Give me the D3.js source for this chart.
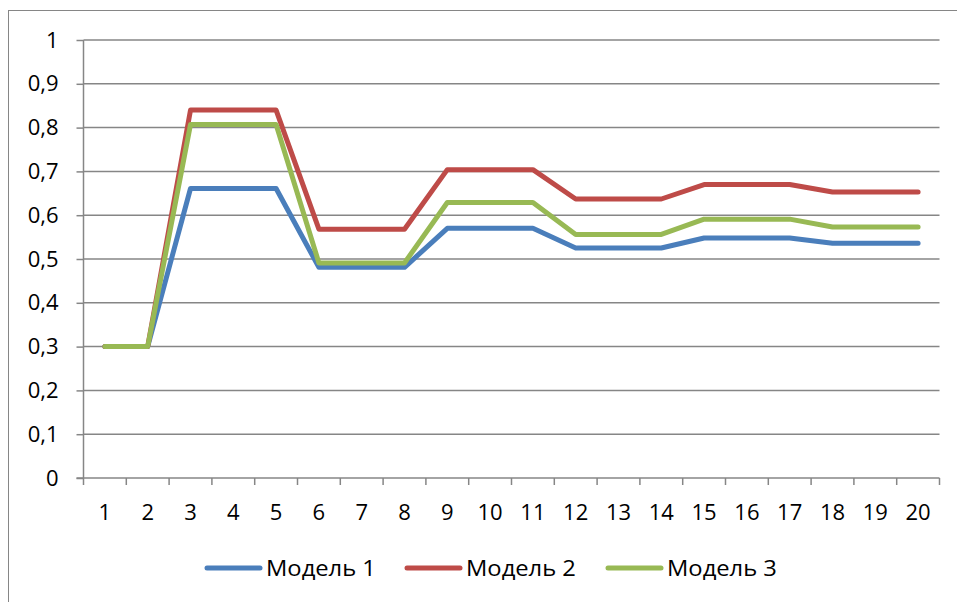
<!DOCTYPE html>
<html>
<head>
<meta charset="utf-8">
<script src="https://cdn.jsdelivr.net/npm/d3@7"></script>
<style>
  html, body { margin: 0; padding: 0; background: #fff; }
  svg { display: block; }
  text { font-family: "Open Sans", "Liberation Sans", sans-serif; fill: #000; }
</style>
</head>
<body>
<svg id="chart" width="957" height="602"></svg>
<script>
// Categories along the x axis
const categories = d3.range(1, 21).map(String);

// Series values per category
const model1 = [0.300, 0.300, 0.661, 0.661, 0.661, 0.481, 0.481, 0.481, 0.570, 0.570,
                0.570, 0.525, 0.525, 0.525, 0.548, 0.548, 0.548, 0.536, 0.536, 0.536];
const model2 = [0.300, 0.300, 0.840, 0.840, 0.840, 0.568, 0.568, 0.568, 0.704, 0.704,
                0.704, 0.637, 0.637, 0.637, 0.670, 0.670, 0.670, 0.653, 0.653, 0.653];
const model3 = [0.300, 0.300, 0.807, 0.807, 0.807, 0.491, 0.491, 0.491, 0.629, 0.629,
                0.629, 0.556, 0.556, 0.556, 0.591, 0.591, 0.591, 0.573, 0.573, 0.573];

const seriesNames = ["Модель 1", "Модель 2", "Модель 3"];
const yTicks = [0, 0.1, 0.2, 0.3, 0.4, 0.5, 0.6, 0.7, 0.8, 0.9, 1];

const series = [
  { name: seriesNames[0], values: model1, color: "#4a7ebb" },
  { name: seriesNames[1], values: model2, color: "#be4b48" },
  { name: seriesNames[2], values: model3, color: "#98b954" }
];

const svg = d3.select("#chart");
const plot = { left: 83.5, right: 939.5, top: 40, bottom: 478 };
const gridColor = "#868686";
const fontSize = "22px";
const fmt = v => String(v).replace(".", ",");

// Outer chart frame
svg.append("rect")
  .attr("x", 8.5).attr("y", 10.5)
  .attr("width", 960).attr("height", 600)
  .attr("fill", "none").attr("stroke", gridColor).attr("stroke-width", 1);

const x = d3.scaleBand().domain(categories).range([plot.left, plot.right]).padding(0);
const y = d3.scaleLinear().domain([0, 1]).range([plot.bottom, plot.top]);

// Horizontal gridlines
svg.append("g")
  .selectAll("line")
  .data(yTicks.slice(1))
  .join("line")
  .attr("x1", plot.left).attr("x2", plot.right)
  .attr("y1", d => y(d)).attr("y2", d => y(d))
  .attr("stroke", gridColor).attr("stroke-width", 1.5);

// Y axis
const yAxis = svg.append("g")
  .attr("transform", `translate(${plot.left},0)`)
  .call(d3.axisLeft(y).tickValues(yTicks).tickFormat(fmt).tickSize(7).tickPadding(18));
yAxis.selectAll("line, path").attr("stroke", gridColor).attr("stroke-width", 1.5);
yAxis.select(".domain").attr("d", `M0,${plot.bottom}V${plot.top}`);
yAxis.selectAll("text")
  .style("font-size", fontSize)
  .style("font-family", "\"Open Sans\", sans-serif")
  .attr("fill", "#000");

// X axis with ticks on category boundaries
const xAxisG = svg.append("g").attr("transform", `translate(0,${plot.bottom})`);
xAxisG.append("line")
  .attr("x1", plot.left - 7).attr("x2", plot.right)
  .attr("stroke", gridColor).attr("stroke-width", 1.5);
const boundaries = categories.map(c => x(c)).concat([x(categories[categories.length - 1]) + x.bandwidth()]);
xAxisG.selectAll("line.tick")
  .data(boundaries)
  .join("line")
  .attr("class", "tick")
  .attr("x1", d => d).attr("x2", d => d)
  .attr("y1", 0).attr("y2", 7)
  .attr("stroke", gridColor).attr("stroke-width", 1.5);
xAxisG.selectAll("text")
  .data(categories)
  .join("text")
  .attr("x", d => x(d) + x.bandwidth() / 2)
  .attr("y", 42)
  .attr("text-anchor", "middle")
  .style("font-size", fontSize)
  .text(d => d);

// Series lines
const line = d3.line()
  .x((d, i) => x(categories[i]) + x.bandwidth() / 2)
  .y(d => y(d));

svg.append("g")
  .selectAll("path")
  .data(series)
  .join("path")
  .attr("d", d => line(d.values))
  .attr("fill", "none")
  .attr("stroke", d => d.color)
  .attr("stroke-width", 5)
  .attr("stroke-linejoin", "round")
  .attr("stroke-linecap", "round");

// Legend
const legendX = [207, 407, 608];
const legend = svg.append("g")
  .selectAll("g")
  .data(series)
  .join("g")
  .attr("transform", (d, i) => `translate(${legendX[i]},568)`);
legend.append("line")
  .attr("x1", 0).attr("x2", 53)
  .attr("stroke", d => d.color).attr("stroke-width", 5)
  .attr("stroke-linecap", "round");
legend.append("text")
  .attr("transform", "translate(59,8) scale(1.08,1)")
  .style("font-size", fontSize)
  .text(d => d.name);
</script>
</body>
</html>
